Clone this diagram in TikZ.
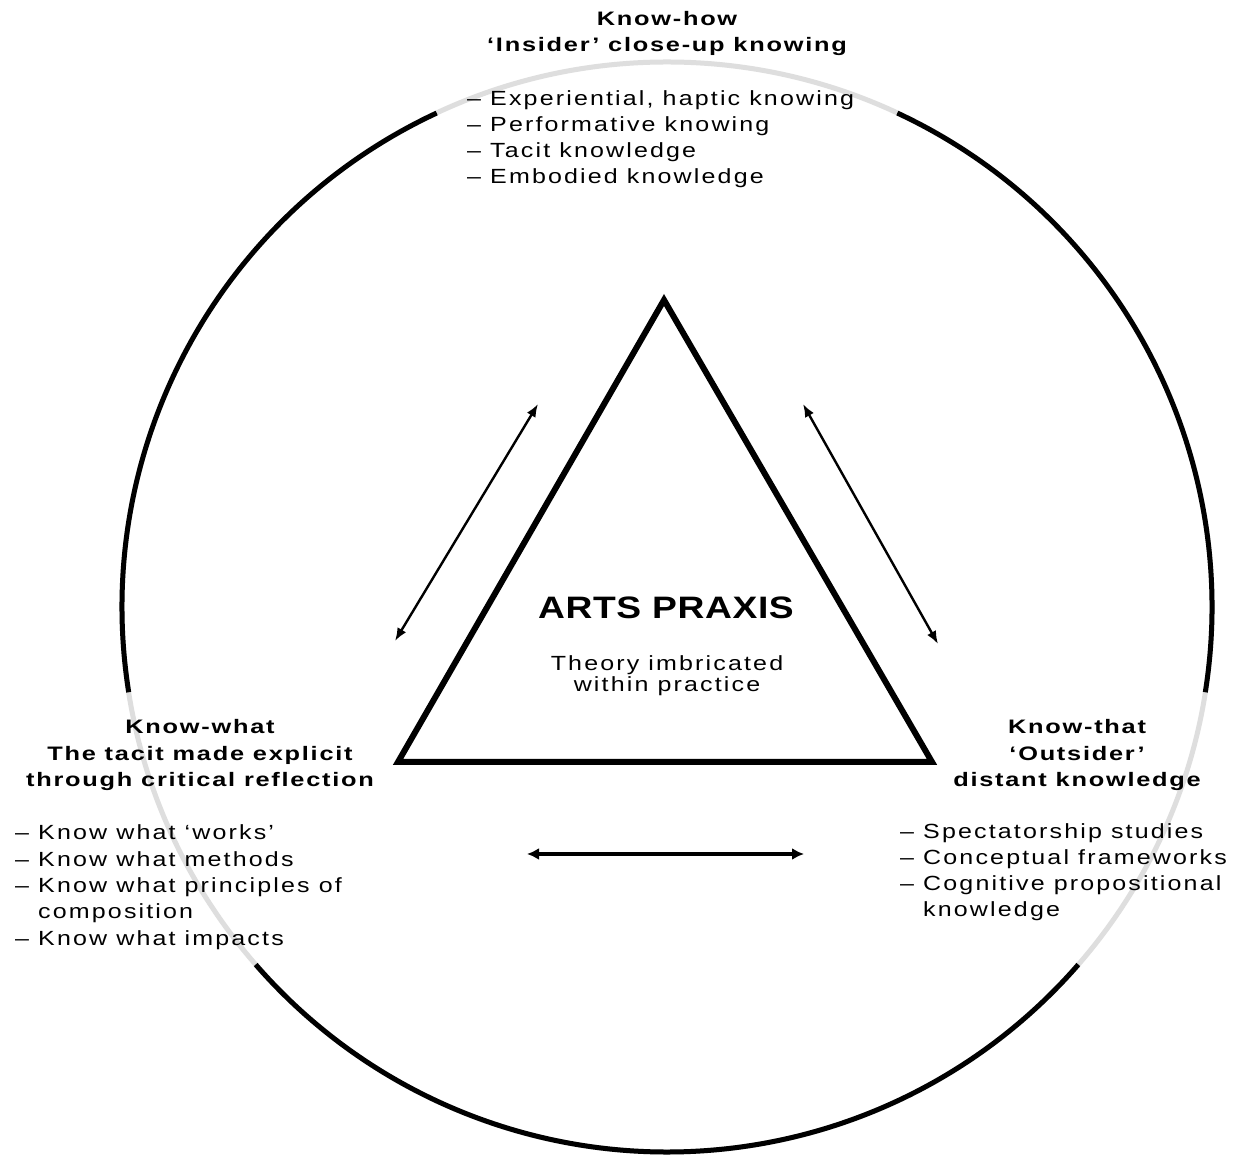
\documentclass[tikz,border=0pt]{standalone}
\usepackage{fontspec}
\setmainfont{Liberation Sans}
\newfontfamily\wide[FakeStretch=1.22,LetterSpace=10.5]{Liberation Sans}
\newfontfamily\wideb[FakeStretch=1.3,LetterSpace=9]{Liberation Sans Bold}
\newfontfamily\widet[FakeStretch=1.2,LetterSpace=2]{Liberation Sans Bold}
\usetikzlibrary{arrows.meta}
\begin{document}
\begin{tikzpicture}[x=1pt,y=1pt,
  ring/.style={line width=5pt,black},
  ringgap/.style={line width=5pt,black!13},
  tri/.style={line width=6pt,line join=miter},
  diag/.style={line width=2.4pt,{Latex[length=13pt,width=10pt]}-{Latex[length=13pt,width=10pt]}},
  horiz/.style={line width=3.5pt,{Latex[length=12pt,width=12pt]}-{Latex[length=12pt,width=12pt]}},
  head/.style={inner sep=0pt,align=center,font=\wideb\fontsize{19.5}{26.5}\selectfont},
  items/.style={inner sep=0pt,align=left,font=\wide\fontsize{20.5}{26.3}\selectfont},
  title/.style={inner sep=0pt,font=\widet\fontsize{31}{36}\selectfont},
  sub/.style={inner sep=0pt,align=center,font=\wide\fontsize{20.5}{21.5}\selectfont}]
\useasboundingbox (0,0) rectangle (1238,1156);
\fill[white] (0,0) rectangle (1238,1156);
% circle
\coordinate (c) at (667,549);
\draw[ringgap] (c) circle[radius=545];
\draw[ring] ([shift={(115:545)}]c) arc[start angle=115,end angle=189,radius=545];
\draw[ring] ([shift={(221:545)}]c) arc[start angle=221,end angle=319,radius=545];
\draw[ring] ([shift={(351:545)}]c) arc[start angle=351,end angle=425,radius=545];
% triangle
\coordinate (apex) at (664,856);
\coordinate (bl) at (398,394);
\coordinate (br) at (932,394);
\draw[tri] (apex) -- (bl) -- (br) -- cycle;
% arrows
\coordinate (la) at (538,752);
\coordinate (lb) at (395,515);
\coordinate (ra) at (803,752);
\coordinate (rb) at (938,512);
\coordinate (ha) at (527,302);
\coordinate (hb) at (804,302);
\draw[diag] (la) -- (lb);
\draw[diag] (ra) -- (rb);
\draw[horiz] (ha) -- (hb);
% texts
\node[head,anchor=base] (howh) at (667,1104) {Know-how\\‘Insider’ close-up knowing};
\node[items,anchor=base west] (howl) at (467,972) {– Experiential, haptic knowing\\– Performative knowing\\– Tacit knowledge\\– Embodied knowledge};
\node[head,anchor=base] (whath) at (200,369) {Know-what\\The tacit made explicit\\through critical reflection};
\node[items,anchor=base west] (whatl) at (15,211) {– Know what ‘works’\\– Know what methods\\– Know what principles of\\\hphantom{– }composition\\– Know what impacts};
\node[head,anchor=base] (thath) at (1077,369) {Know-that\\‘Outsider’\\distant knowledge};
\node[items,anchor=base west] (thatl) at (900,239) {– Spectatorship studies\\– Conceptual frameworks\\– Cognitive propositional\\\hphantom{– }knowledge};
\node[title,anchor=base] (arts) at (666,537) {ARTS PRAXIS};
\node[sub,anchor=base] (theory) at (667,464) {Theory imbricated\\within practice};
\end{tikzpicture}
\end{document}
